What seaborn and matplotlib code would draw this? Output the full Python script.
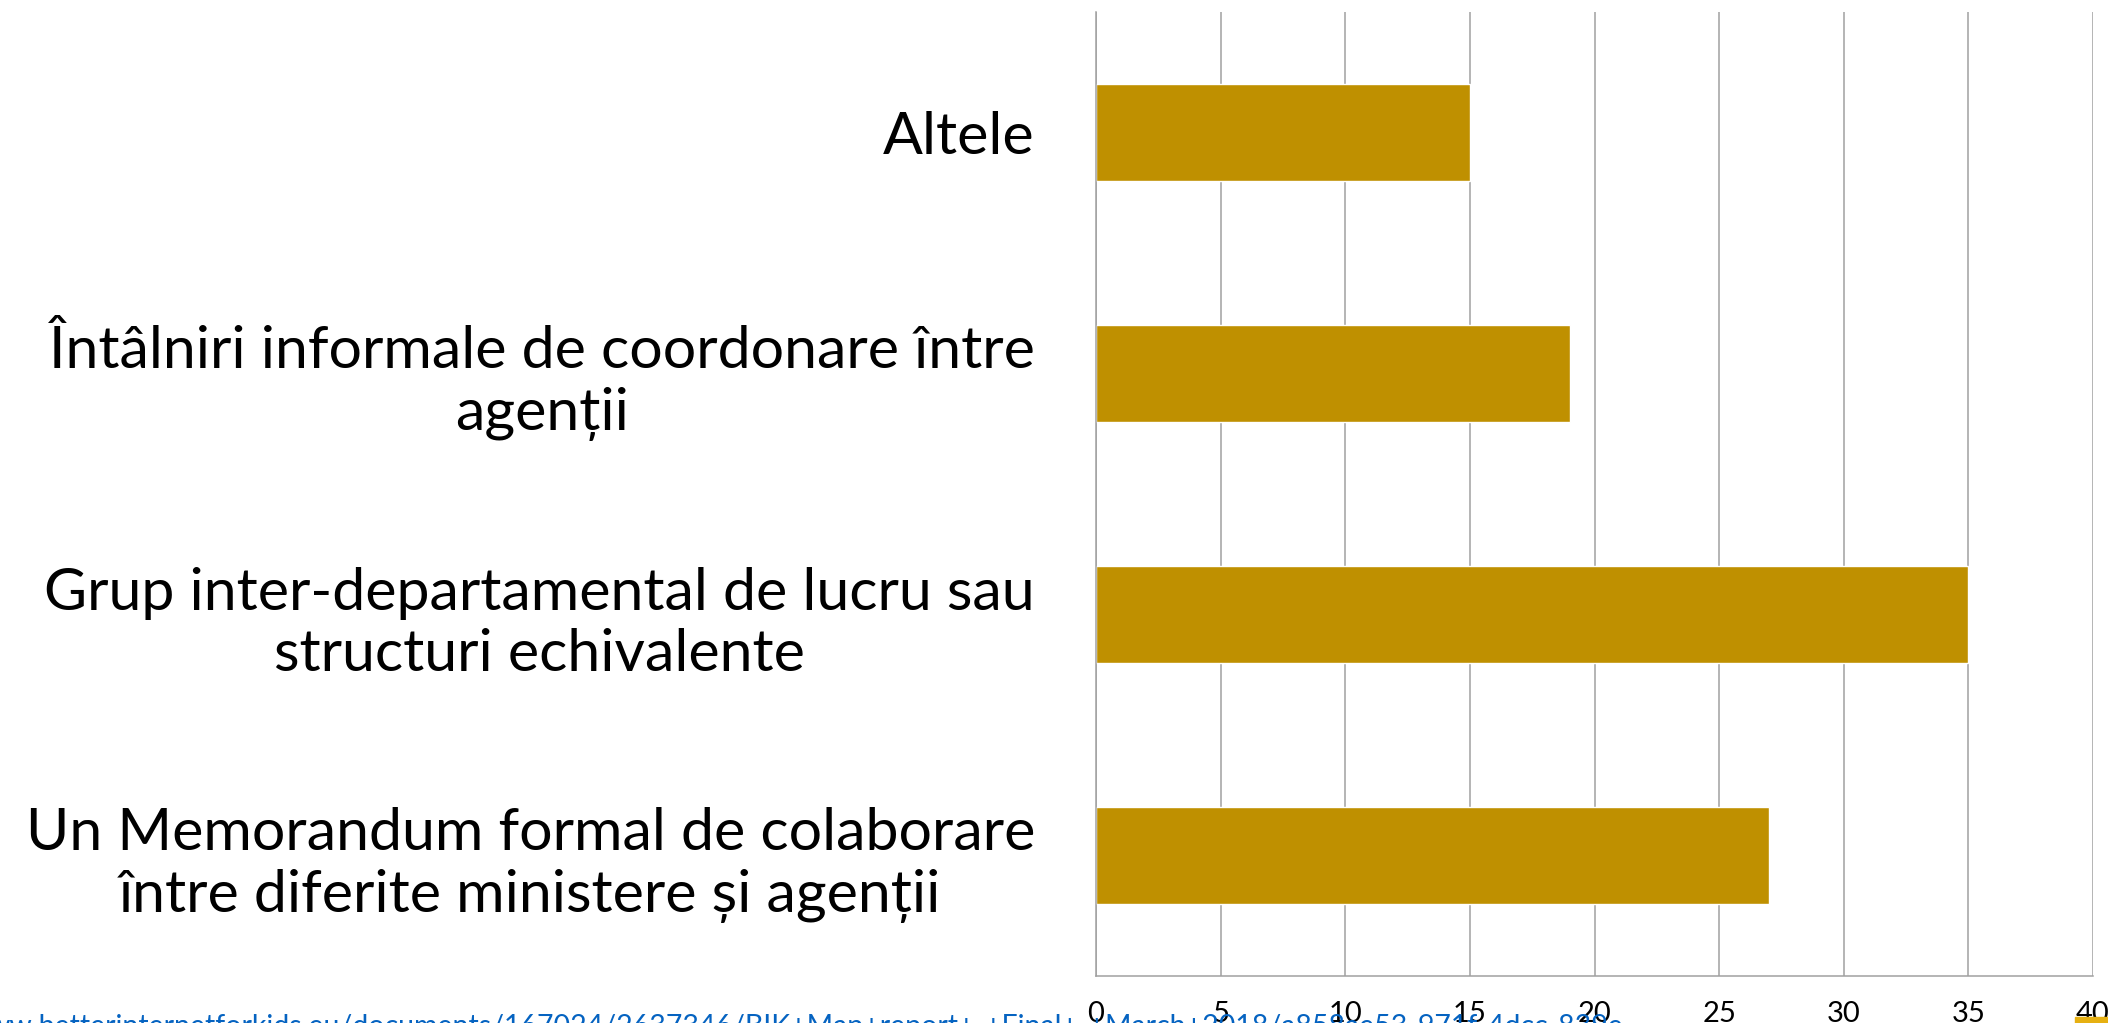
import matplotlib
matplotlib.use("Agg")
import matplotlib.pyplot as plt
import matplotlib.patches as mpatches
import numpy as np
import pandas as pd
import seaborn as sns

# ─── Data ─────────────────────────────────────────────────────────
categories = [
    "Altele",
    "Întâlniri informale de coordonare între\nagenții",
    "Grup inter-departamental de lucru sau\nstructuri echivalente",
    "Un Memorandum formal de colaborare\nîntre diferite ministere și agenții",
]
values = [15, 19, 35, 27]
x_ticks = [0, 5, 10, 15, 20, 25, 30, 35, 40]
source_url = ("ww.betterinternetforkids.eu/documents/167024/2637346/"
              "BIK+Map+report+-+Final+-+March+2018/a858ae53-971f-4dcc-839e")

BAR_COLOR = "#BF9000"
GRID_COLOR = "#A0A0A0"

df = pd.DataFrame({"category": categories, "value": values})

# ─── Figure ───────────────────────────────────────────────────────
sns.set_style("white")
plt.rcParams["font.family"] = ["Lato", "DejaVu Sans"]

fig = plt.figure(figsize=(21.08, 10.23), dpi=100)
ax = fig.add_axes([1096 / 2108, 47 / 1023, 997 / 2108, 964 / 1023])

sns.barplot(data=df, x="value", y="category", orient="h",
            color=BAR_COLOR, width=0.405, saturation=1, ax=ax)

ax.set_xlim(0, 40)
ax.set_ylim(3.5, -0.5)
ax.set_xticks(x_ticks)
ax.set_xlabel("")
ax.set_ylabel("")

# gridlines on the x values
ax.set_axisbelow(True)
ax.grid(axis="x", color=GRID_COLOR, linewidth=1.1)
ax.grid(axis="y", visible=False)

# spines
for side in ["top", "right"]:
    ax.spines[side].set_visible(False)
for side in ["left", "bottom"]:
    ax.spines[side].set_color(GRID_COLOR)
    ax.spines[side].set_linewidth(1.1)

# x ticks
ax.tick_params(axis="x", direction="out", length=7, width=1.1,
               color=GRID_COLOR, labelsize=21, pad=11, labelcolor="black")

# y ticks: labels at centres, tick marks between categories
ax.set_yticks(np.arange(-0.5, len(categories), 1.0), minor=True)
ax.tick_params(axis="y", which="minor", direction="out", length=15,
               width=1.1, color=GRID_COLOR)
ax.tick_params(axis="y", which="major", length=0, pad=44,
               labelsize=42.5, labelcolor="black")
for lbl in ax.get_yticklabels():
    lbl.set_multialignment("center")

# source link (cut off at bottom)
fig.text(-0.006, -0.012, source_url, color="#0563C1", fontsize=20.5,
         ha="left", va="baseline")

# small yellow mark in the bottom-right corner
fig.patches.append(mpatches.Rectangle((2075 / 2108, 0), 40 / 2108, 6 / 1023,
                                      transform=fig.transFigure,
                                      color="#E6B012", zorder=5))

fig.savefig("out.png", dpi=100, facecolor="white")
plt.close(fig)
